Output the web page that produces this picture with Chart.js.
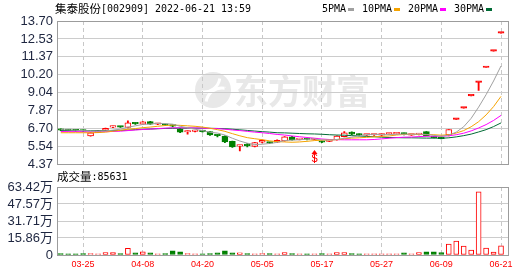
<!DOCTYPE html>
<html lang="zh">
<head>
<meta charset="utf-8">
<title>集泰股份 K线</title>
<script src="https://cdn.jsdelivr.net/npm/chart.js@4.4.1/dist/chart.umd.min.js"></script>
<style>
  html, body { margin: 0; padding: 0; background: #fff; }
  #wrap { position: relative; width: 530px; height: 276px; overflow: hidden; }
  #kline { position: absolute; left: 0; top: 0; }
  #vol { position: absolute; left: 0; top: 170px; }
</style>
</head>
<body>
<div id="wrap">
  <canvas id="kline" width="530" height="176"></canvas>
  <canvas id="vol" width="530" height="106"></canvas>
</div>
<script>
'use strict';

//chart data
const stockName = '集泰股份';
const stockInfo = '[002909] 2022-06-21 13:59';
const dates = ['03-22', '03-23', '03-24', '03-25', '03-28', '03-29', '03-30', '03-31', '04-01', '04-06',
  '04-07', '04-08', '04-11', '04-12', '04-13', '04-14', '04-15', '04-18', '04-19', '04-20',
  '04-21', '04-22', '04-25', '04-26', '04-27', '04-28', '04-29', '05-05', '05-06', '05-09',
  '05-10', '05-11', '05-12', '05-13', '05-16', '05-17', '05-18', '05-19', '05-20', '05-23',
  '05-24', '05-25', '05-26', '05-27', '05-30', '05-31', '06-01', '06-02', '06-06', '06-07',
  '06-08', '06-09', '06-10', '06-13', '06-14', '06-15', '06-16', '06-17', '06-20', '06-21'];
const opens = [6.66, 6.60, 6.58, 6.57, 6.22, 6.44, 6.59, 6.79, 6.81, 6.76,
  7.02, 6.98, 7.15, 6.97, 6.96, 6.87, 6.66, 6.47, 6.50, 6.52,
  6.49, 6.25, 6.20, 5.86, 5.55, 5.62, 5.53, 5.80, 5.78, 5.80,
  5.89, 6.16, 5.97, 6.02, 5.98, 5.85, 5.86, 5.95, 6.16, 6.46,
  6.29, 6.26, 6.27, 6.26, 6.34, 6.35, 6.35, 6.26, 6.30, 6.49,
  6.14, 6.10, 6.27, 7.29, 8.02, 8.82, 9.70, 10.67, 11.74, 12.91];
const highs = [6.68, 6.62, 6.60, 6.59, 6.43, 6.55, 6.72, 6.85, 6.83, 7.20,
  7.06, 7.15, 7.17, 7.03, 6.98, 6.92, 6.70, 6.55, 6.55, 6.54,
  6.50, 6.30, 6.22, 5.88, 5.60, 5.72, 5.80, 5.95, 5.80, 5.95,
  6.17, 6.18, 6.02, 6.04, 6.03, 5.87, 5.90, 6.22, 6.49, 6.48,
  6.35, 6.30, 6.31, 6.33, 6.38, 6.39, 6.40, 6.30, 6.36, 6.50,
  6.16, 6.12, 6.63, 7.29, 8.02, 8.82, 9.70, 10.67, 11.74, 12.91];
const lows = [6.56, 6.54, 6.53, 6.50, 6.20, 6.42, 6.57, 6.75, 6.77, 6.74,
  6.96, 6.96, 6.96, 6.95, 6.89, 6.80, 6.42, 6.33, 6.48, 6.46,
  6.25, 6.15, 5.78, 5.46, 5.24, 5.50, 5.50, 5.75, 5.70, 5.78,
  5.87, 5.94, 5.95, 5.95, 5.96, 5.78, 5.84, 5.93, 6.14, 6.30,
  6.22, 6.24, 6.25, 6.22, 6.32, 6.33, 6.28, 6.25, 6.28, 6.21,
  6.08, 6.01, 6.22, 7.29, 8.02, 8.82, 9.17, 10.67, 11.74, 12.91];
const closes = [6.58, 6.56, 6.55, 6.53, 6.42, 6.52, 6.70, 6.80, 6.79, 7.07,
  7.00, 7.13, 6.98, 7.01, 6.91, 6.85, 6.45, 6.50, 6.53, 6.49,
  6.27, 6.23, 5.82, 5.50, 5.58, 5.58, 5.78, 5.93, 5.74, 5.93,
  6.15, 5.96, 6.00, 5.98, 6.01, 5.80, 5.89, 6.20, 6.42, 6.33,
  6.27, 6.28, 6.29, 6.28, 6.36, 6.37, 6.33, 6.28, 6.33, 6.23,
  6.10, 6.03, 6.63, 7.29, 8.02, 8.82, 9.70, 10.67, 11.74, 12.91];
const ma5 = [6.62, 6.60, 6.58, 6.56, 6.53, 6.52, 6.54, 6.59, 6.65, 6.78,
  6.87, 6.96, 6.99, 7.04, 7.01, 6.98, 6.84, 6.74, 6.65, 6.56,
  6.45, 6.40, 6.27, 6.06, 5.88, 5.74, 5.65, 5.67, 5.72, 5.79,
  5.91, 5.94, 5.96, 6.00, 6.02, 5.95, 5.94, 5.98, 6.06, 6.13,
  6.22, 6.30, 6.32, 6.29, 6.30, 6.32, 6.33, 6.32, 6.33, 6.31,
  6.25, 6.19, 6.26, 6.46, 6.81, 7.36, 8.09, 8.90, 9.79, 10.77];
const ma10 = [6.42, 6.42, 6.42, 6.42, 6.42, 6.43, 6.46, 6.52, 6.58, 6.65,
  6.69, 6.75, 6.79, 6.84, 6.89, 6.92, 6.90, 6.87, 6.84, 6.79,
  6.71, 6.62, 6.51, 6.36, 6.22, 6.10, 6.03, 5.97, 5.89, 5.84,
  5.82, 5.80, 5.82, 5.86, 5.91, 5.93, 5.94, 5.97, 6.03, 6.07,
  6.09, 6.12, 6.15, 6.18, 6.21, 6.27, 6.31, 6.32, 6.31, 6.30,
  6.29, 6.26, 6.29, 6.40, 6.56, 6.81, 7.14, 7.58, 8.12, 8.79];
const ma20 = [6.50, 6.49, 6.49, 6.48, 6.48, 6.48, 6.49, 6.50, 6.52, 6.56,
  6.60, 6.63, 6.66, 6.69, 6.72, 6.74, 6.74, 6.74, 6.73, 6.72,
  6.70, 6.69, 6.65, 6.60, 6.56, 6.51, 6.46, 6.42, 6.37, 6.31,
  6.27, 6.21, 6.16, 6.11, 6.06, 6.01, 5.98, 5.97, 5.96, 5.96,
  5.96, 5.96, 5.98, 6.02, 6.06, 6.10, 6.13, 6.14, 6.17, 6.19,
  6.19, 6.19, 6.22, 6.29, 6.39, 6.54, 6.73, 6.95, 7.22, 7.55];
const ma30 = [6.56, 6.56, 6.55, 6.55, 6.55, 6.55, 6.55, 6.56, 6.57, 6.59,
  6.62, 6.64, 6.66, 6.68, 6.70, 6.71, 6.72, 6.72, 6.72, 6.72,
  6.71, 6.70, 6.68, 6.65, 6.61, 6.57, 6.53, 6.49, 6.46, 6.42,
  6.41, 6.39, 6.37, 6.35, 6.34, 6.32, 6.29, 6.27, 6.26, 6.23,
  6.21, 6.18, 6.16, 6.13, 6.11, 6.10, 6.09, 6.09, 6.08, 6.07,
  6.07, 6.06, 6.09, 6.15, 6.23, 6.33, 6.47, 6.62, 6.82, 7.06];
//volume in 万
const volumes = [1.3, 1.2, 1.2, 1.3, 1.3, 1.2, 2.2, 2.3, 1.3, 6.3,
  2.1, 3.0, 2.0, 1.2, 1.3, 3.9, 3.0, 1.3, 1.2, 1.2,
  1.3, 2.0, 3.9, 2.1, 2.0, 1.3, 1.2, 1.3, 1.3, 1.2,
  2.2, 1.3, 1.2, 1.2, 1.2, 1.3, 1.2, 2.2, 2.2, 1.3,
  1.2, 1.2, 1.2, 1.2, 1.2, 1.2, 2.0, 1.2, 2.2, 3.0,
  3.0, 2.2, 10.3, 13.0, 8.4, 4.7, 59.0, 6.5, 2.8, 8.5631];
const lastVolume = 85631;
const maLabels = ['5PMA', '10PMA', '20PMA', '30PMA'];
const priceTicks = [4.37, 5.54, 6.70, 7.87, 9.04, 10.20, 11.37, 12.53, 13.70];
const volTicks = [0, 15.86, 31.71, 47.57, 63.42];
const tickDates = ['03-25', '04-08', '04-20', '05-05', '05-17', '05-27', '06-09', '06-21'];
const signalDate = '05-16';
const signalPrice = 5.29;

//styles
const RED = '#ff0000';
const GREEN = '#008000';
const maColors = ['#a0a0a0', '#f5a300', '#ff00ff', '#006b35'];
const labelFont = '"Liberation Sans", "Noto Sans CJK SC", sans-serif';
const cjkFont = '"Noto Sans CJK SC", sans-serif';
const monoFont = '"DejaVu Sans Mono", monospace';
const axisColor = '#1e2640';
const frameColor = '#9c9c9c';

const xTickIdx = tickDates.map(d => dates.indexOf(d));

function isUp(i) {
  return closes[i] >= opens[i];
}

//hollow red for up days, solid for flat (limit) days, solid green for down days
function bodyFill(i) {
  if (closes[i] === opens[i]) {
    return RED;
  }
  return closes[i] > opens[i] ? '#ffffff' : GREEN;
}

function points(arr) {
  return arr.map((v, i) => ({ x: i, y: v }));
}

//shared x axis (linear so the last slot leaves some room like the original)
function makeXScale(showLabels) {
  return {
    type: 'linear',
    min: -0.5,
    max: 60.07,
    offset: false,
    grid: { color: '#c8c8c8', drawTicks: false, offset: false },
    border: { display: false, dash: [4, 3] },
    afterBuildTicks: s => { s.ticks = xTickIdx.map(v => ({ value: v })); },
    afterFit: s => { s.height = showLabels ? 21 : 0; },
    ticks: showLabels ? {
      autoSkip: false,
      maxRotation: 0,
      padding: 4,
      color: RED,
      font: { family: labelFont, size: 9 },
      callback: v => dates[v]
    } : { display: false }
  };
}

function drawFrame(chart) {
  const a = chart.chartArea;
  const ctx = chart.ctx;
  ctx.save();
  ctx.strokeStyle = frameColor;
  ctx.lineWidth = 1;
  ctx.strokeRect(Math.round(a.left) + 0.5, Math.round(a.top) + 0.5,
    Math.round(a.right - a.left) - 1, Math.round(a.bottom - a.top));
  ctx.restore();
}

//watermark, title, legend and the small S signal
const klineDecor = {
  id: 'klineDecor',
  beforeDraw(chart) {
    const ctx = chart.ctx;
    ctx.save();
    ctx.fillStyle = '#e8e8e8';
    ctx.beginPath();
    ctx.arc(213, 90, 18, 0, Math.PI * 2);
    ctx.fill();
    ctx.strokeStyle = '#ffffff';
    ctx.lineWidth = 3;
    ctx.beginPath();
    ctx.arc(222, 104, 16, Math.PI * 1.05, Math.PI * 1.55);
    ctx.stroke();
    ctx.beginPath();
    ctx.arc(204, 76, 16, Math.PI * 0.05, Math.PI * 0.55);
    ctx.stroke();
    ctx.fillStyle = '#e8e8e8';
    ctx.font = 'bold 34px ' + cjkFont;
    ctx.textBaseline = 'middle';
    ctx.fillText('东方财富', 234, 91);
    ctx.restore();
  },
  afterDraw(chart) {
    const ctx = chart.ctx;
    drawFrame(chart);
    ctx.save();
    //title
    ctx.textBaseline = 'middle';
    ctx.fillStyle = '#000';
    ctx.font = '11.5px ' + cjkFont;
    ctx.fillText(stockName, 55, 9);
    let tx = 55 + ctx.measureText(stockName).width;
    ctx.font = '10px ' + monoFont;
    ctx.fillText(stockInfo, tx, 9, 150);
    //legend
    let lx = 322;
    maLabels.forEach((lab, k) => {
      ctx.fillStyle = '#000';
      ctx.fillText(lab, lx, 9);
      const w = ctx.measureText(lab).width;
      ctx.fillStyle = maColors[k];
      ctx.fillRect(Math.round(lx + w + 2), 8, 6, 3);
      lx = Math.round(lx + w + 2 + 6 + 8);
    });
    //signal mark
    const sx = Math.round(chart.scales.x.getPixelForValue(dates.indexOf(signalDate))) + 0.5;
    const sy = Math.round(chart.scales.y.getPixelForValue(signalPrice));
    ctx.fillStyle = RED;
    ctx.strokeStyle = RED;
    ctx.lineWidth = 1;
    ctx.beginPath();
    ctx.moveTo(sx, sy);
    ctx.lineTo(sx - 3, sy + 4);
    ctx.lineTo(sx + 3, sy + 4);
    ctx.closePath();
    ctx.fill();
    ctx.beginPath();
    ctx.moveTo(sx, sy + 4);
    ctx.lineTo(sx, sy + 13);
    ctx.stroke();
    ctx.font = '10px ' + labelFont;
    ctx.textAlign = 'center';
    ctx.fillText('S', sx, sy + 9);
    ctx.restore();
  }
};

const volDecor = {
  id: 'volDecor',
  afterDraw(chart) {
    const ctx = chart.ctx;
    drawFrame(chart);
    ctx.save();
    ctx.textBaseline = 'middle';
    ctx.fillStyle = '#000';
    ctx.font = '11.5px ' + cjkFont;
    ctx.fillText('成交量', 57, 7);
    const w = ctx.measureText('成交量').width;
    ctx.font = '10px ' + monoFont;
    ctx.fillText(':' + lastVolume, 57 + w, 7);
    ctx.restore();
  }
};

//candles: wick + body as floating bars, MA lines on top
const klineChart = new Chart(document.getElementById('kline'), {
  type: 'bar',
  data: {
    datasets: [
      ...[ma5, ma10, ma20, ma30].map((arr, k) => ({
        type: 'line',
        label: maLabels[k],
        data: points(arr),
        borderColor: maColors[k],
        borderWidth: 1,
        pointRadius: 0,
        tension: 0,
        order: 0
      })),
      {
        label: 'body',
        data: opens.map((o, i) => ({ x: i, y: [o, closes[i]] })),
        backgroundColor: c => bodyFill(c.dataIndex),
        borderColor: c => isUp(c.dataIndex) ? RED : GREEN,
        borderWidth: 1,
        borderSkipped: false,
        barThickness: 6,
        minBarLength: 1.5,
        grouped: false,
        order: 1
      },
      {
        label: 'wick',
        data: lows.map((l, i) => ({ x: i, y: [l, highs[i]] })),
        backgroundColor: c => isUp(c.dataIndex) ? RED : GREEN,
        borderWidth: 0,
        barThickness: 1.2,
        grouped: false,
        order: 2
      }
    ]
  },
  options: {
    responsive: false,
    devicePixelRatio: 1,
    animation: false,
    events: [],
    layout: { padding: { top: 21, right: 21, bottom: 10, left: 0 } },
    plugins: { legend: { display: false }, tooltip: { enabled: false } },
    scales: {
      x: makeXScale(false),
      y: {
        min: 4.37,
        max: 13.70,
        afterBuildTicks: s => { s.ticks = priceTicks.map(v => ({ value: v })); },
        afterFit: s => { s.width = 57; },
        grid: { color: '#cccccc', drawTicks: false },
        border: { display: false },
        ticks: {
          autoSkip: false,
          padding: 4,
          color: axisColor,
          font: { family: labelFont, size: 13 },
          callback: v => v.toFixed(2)
        }
      }
    }
  },
  plugins: [klineDecor]
});

//volume bars
const volChart = new Chart(document.getElementById('vol'), {
  type: 'bar',
  data: {
    datasets: [{
      label: '成交量',
      data: volumes.map((v, i) => ({ x: i, y: v })),
      backgroundColor: c => isUp(c.dataIndex) ? '#ffffff' : GREEN,
      borderColor: c => isUp(c.dataIndex) ? RED : GREEN,
      borderWidth: 1,
      borderSkipped: false,
      barThickness: 5,
      grouped: false
    }]
  },
  options: {
    responsive: false,
    devicePixelRatio: 1,
    animation: false,
    events: [],
    layout: { padding: { top: 17, right: 21, bottom: 0, left: 0 } },
    plugins: { legend: { display: false }, tooltip: { enabled: false } },
    scales: {
      x: makeXScale(true),
      y: {
        min: 0,
        max: 63.42,
        afterBuildTicks: s => { s.ticks = volTicks.map(v => ({ value: v })); },
        afterFit: s => { s.width = 57; },
        grid: { color: '#cccccc', drawTicks: false },
        border: { display: false },
        ticks: {
          autoSkip: false,
          padding: 4,
          color: axisColor,
          font: { family: labelFont, size: 13 },
          callback: v => v === 0 ? '0' : v.toFixed(2) + '万'
        }
      }
    }
  },
  plugins: [volDecor]
});
</script>
</body>
</html>
